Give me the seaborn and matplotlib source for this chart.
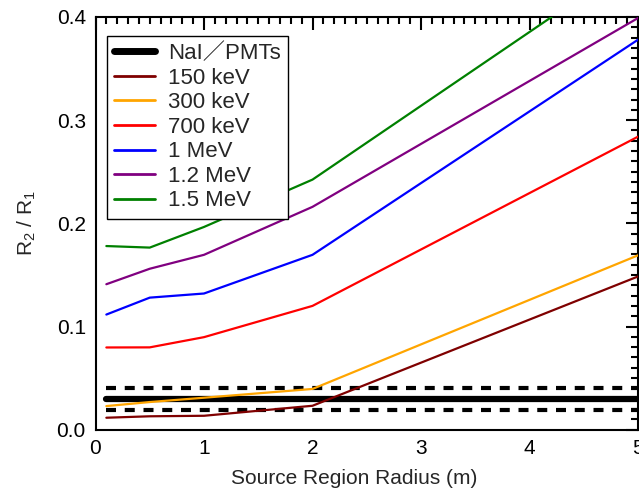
import matplotlib
matplotlib.use("Agg")
import matplotlib.pyplot as plt
import seaborn as sns
import pandas as pd
from matplotlib.ticker import MultipleLocator, FormatStrFormatter

# ---- data ----
radius = [0.1, 0.5, 1.0, 2.0, 5.0]
r150keV = [0.0116, 0.0130, 0.0135, 0.0232, 0.1485]
r300keV = [0.0229, 0.0268, 0.0310, 0.0395, 0.1690]
r700keV = [0.0797, 0.0798, 0.0897, 0.1200, 0.2840]
r1MeV = [0.1116, 0.1280, 0.1320, 0.1695, 0.3780]
r1p2MeV = [0.1410, 0.1560, 0.1695, 0.2160, 0.3990]
r1p5MeV = [0.1780, 0.1765, 0.1965, 0.2424, 0.4570]
nai_center = [0.030] * 5
nai_upper = [0.040] * 5
nai_lower = [0.0195] * 5

series_labels = ["150 keV", "300 keV", "700 keV", "1 MeV", "1.2 MeV", "1.5 MeV"]
series_values = [r150keV, r300keV, r700keV, r1MeV, r1p2MeV, r1p5MeV]
series_colors = ["#7f0000", "#ffa500", "#ff0000", "#0000ff", "#800080", "#008000"]

sns.set_theme(style="white")
plt.rcParams["font.family"] = ["Liberation Sans", "Noto Sans CJK JP", "DejaVu Sans"]
plt.rcParams["mathtext.default"] = "regular"

fig = plt.figure(figsize=(6.39, 4.91), dpi=100)
ax = fig.add_axes([95.5 / 639, 1 - 429.7 / 491, (638 - 95.5) / 639, (429.7 - 17) / 491])

df_nai = pd.DataFrame({"x": radius, "c": nai_center, "u": nai_upper, "l": nai_lower})
sns.lineplot(data=df_nai, x="x", y="u", ax=ax, color="black", lw=3, zorder=3).lines[-1].set_dashes([2.4, 2.1])
sns.lineplot(data=df_nai, x="x", y="l", ax=ax, color="black", lw=3, zorder=3).lines[-1].set_dashes([2.4, 2.1])
sns.lineplot(data=df_nai, x="x", y="c", ax=ax, color="black", lw=4.5, zorder=3, label="NaI／PMTs")

for lab, vals, col in zip(series_labels, series_values, series_colors):
    sns.lineplot(x=radius, y=vals, ax=ax, color=col, lw=1.6, label=lab, zorder=4)

ax.set_xlim(0, 5)
ax.set_ylim(0, 0.4)
ax.xaxis.set_major_locator(MultipleLocator(1))
ax.xaxis.set_minor_locator(MultipleLocator(0.1))
ax.yaxis.set_major_locator(MultipleLocator(0.1))
ax.yaxis.set_minor_locator(MultipleLocator(0.01))
ax.yaxis.set_major_formatter(FormatStrFormatter("%.1f"))
ax.xaxis.set_major_formatter(FormatStrFormatter("%d"))
ax.tick_params(which="both", direction="in", top=True, right=True, width=1.5, colors="black")
ax.tick_params(which="major", length=9, labelsize=15, pad=7)
ax.tick_params(which="minor", length=5)
for s in ax.spines.values():
    s.set_linewidth(1.5)
    s.set_color("black")
ax.set_xlabel("Source Region Radius (m)", fontsize=15)
ax.set_ylabel("R$_2$ / R$_1$", fontsize=15, labelpad=13)
ax.xaxis.set_label_coords(0.477, -0.095)

handles, labels = ax.get_legend_handles_labels()
leg = ax.legend(handles, labels, loc="upper left", bbox_to_anchor=(0.021, 0.954), fontsize=16,
                frameon=True, fancybox=False, framealpha=1, edgecolor="black",
                handlelength=1.85, handletextpad=0.6, labelspacing=0.16, borderpad=0.32,
                borderaxespad=0)
leg.get_frame().set_linewidth(1.0)
for l in leg.get_lines():
    l.set_linewidth(2.0)
leg.get_lines()[0].set_linewidth(5)
leg.set_zorder(10)

fig.savefig("out.png", dpi=100)
